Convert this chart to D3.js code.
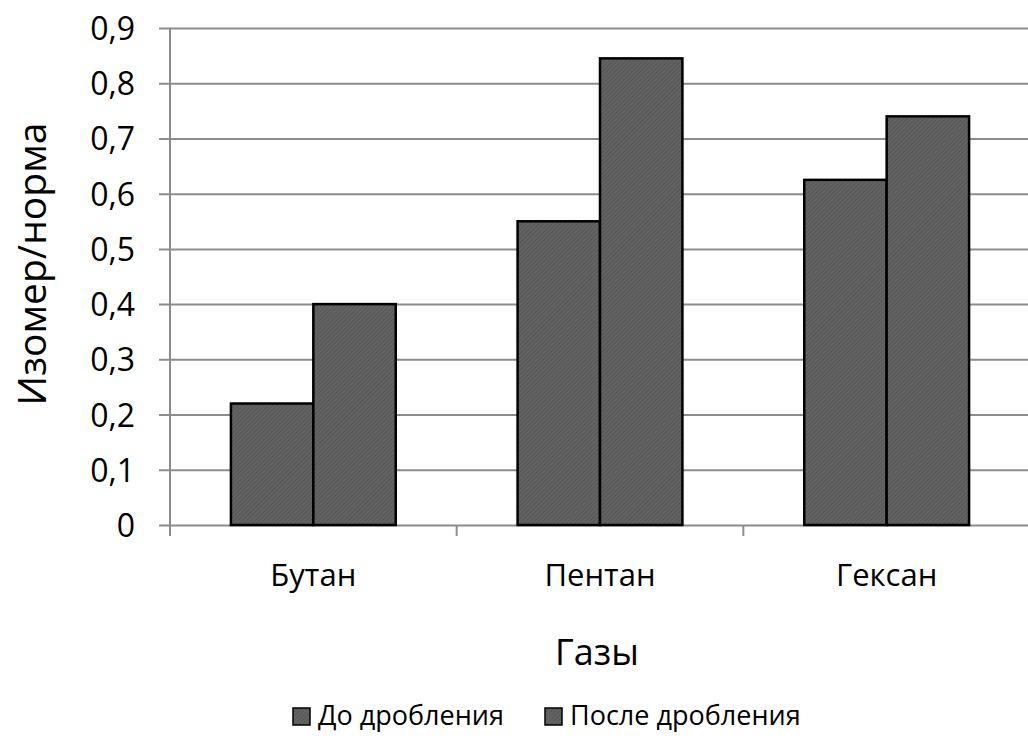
<!DOCTYPE html>
<html>
<head>
<meta charset="utf-8">
<script src="https://cdn.jsdelivr.net/npm/d3@7"></script>
<style>
  body { margin: 0; background: #fff; }
  text { font-family: "Open Sans", sans-serif; fill: #000; }
</style>
</head>
<body>
<svg id="grafico"></svg>
<script>
const categorias = ['Бутан', 'Пентан', 'Гексан'];
const series = ['До дробления', 'После дробления'];
const antes = [0.22, 0.55, 0.625];
const depois = [0.40, 0.845, 0.74];
const ticksY = [0, 0.1, 0.2, 0.3, 0.4, 0.5, 0.6, 0.7, 0.8, 0.9];

const largura = 1028, altura = 739;
const margem = { esquerda: 170, direita: -2, superior: 28, inferior: 214 };
const larguraPlotagem = largura - margem.esquerda - margem.direita;
const alturaPlotagem = altura - margem.superior - margem.inferior;

const svg = d3.select('#grafico').attr('width', largura).attr('height', altura);

const defs = svg.append('defs');
const pat = defs.append('pattern').attr('id', 'textura')
  .attr('width', 3).attr('height', 3).attr('patternUnits', 'userSpaceOnUse')
  .attr('patternTransform', 'rotate(45)');
pat.append('rect').attr('width', 3).attr('height', 3).attr('fill', '#636363');
pat.append('rect').attr('width', 1).attr('height', 3).attr('fill', '#575757');

const plotagem = svg.append('g').attr('transform', `translate(${margem.esquerda}, ${margem.superior})`);

const x = d3.scaleBand().domain(categorias).range([0, larguraPlotagem]);
const xs = d3.scaleBand().domain(series)
  .range([x.bandwidth() * 0.2125, x.bandwidth() * 0.7875]);
const y = d3.scaleLinear().domain([0, 0.9]).range([alturaPlotagem, 0]);

// grade
plotagem.append('g').attr('id', 'grade')
  .call(d3.axisLeft(y).tickValues(ticksY).tickSize(-larguraPlotagem - 11).tickFormat(''))
  .attr('transform', 'translate(-11, 0)')
  .call(g => g.select('.domain').remove())
  .call(g => g.selectAll('line').attr('stroke', '#8c8c8c').attr('stroke-width', 2));

// eixo Y
plotagem.append('g').attr('id', 'eixoY')
  .call(d3.axisLeft(y).tickValues(ticksY).tickSize(0).tickPadding(35)
    .tickFormat(d => d3.format('.1~f')(d).replace('.', ',')))
  .call(g => g.select('.domain').attr('stroke', '#8c8c8c').attr('stroke-width', 2)
    .attr('d', `M0,0V${alturaPlotagem + 11}`))
  .call(g => g.selectAll('text').style('font-size', '32px').attr('dy', '0.36em'));

// eixo X
const ticksX = categorias.map(c => x(c));
plotagem.append('g').attr('id', 'eixoX')
  .selectAll('line').data(ticksX).enter().append('line')
  .attr('x1', d => d).attr('x2', d => d)
  .attr('y1', alturaPlotagem).attr('y2', alturaPlotagem + 11)
  .attr('stroke', '#8c8c8c').attr('stroke-width', 2);

plotagem.selectAll('.rotuloX')
  .data(categorias).enter().append('text')
  .attr('x', d => x(d) + x.bandwidth() / 2)
  .attr('y', alturaPlotagem + 61)
  .style('text-anchor', 'middle')
  .style('font-size', '31px')
  .text(d => d);

// barras
const dados = [];
categorias.forEach((c, i) => {
  dados.push({ cat: c, serie: series[0], valor: antes[i] });
  dados.push({ cat: c, serie: series[1], valor: depois[i] });
});

plotagem.selectAll('.barra')
  .data(dados).enter().append('rect')
  .classed('barra', true)
  .attr('x', d => x(d.cat) + xs(d.serie))
  .attr('y', d => y(d.valor))
  .attr('width', xs.bandwidth())
  .attr('height', d => alturaPlotagem - y(d.valor))
  .attr('fill', 'url(#textura)')
  .attr('stroke', '#000')
  .attr('stroke-width', 2.5);

// titulos
plotagem.append('text')
  .style('text-anchor', 'middle')
  .style('font-size', '39px')
  .attr('transform', `translate(${-124}, ${236}) rotate(-90)`)
  .text('Изомер/норма');

plotagem.append('text')
  .attr('x', 427)
  .attr('y', 637)
  .style('text-anchor', 'middle')
  .style('font-size', '36px')
  .text('Газы');

// legenda
const legX = [293, 545];
const leg = svg.selectAll('.legenda').data(series).enter().append('g')
  .attr('transform', (d, i) => `translate(${legX[i]}, 708)`);
leg.append('rect').attr('width', 17).attr('height', 17)
  .attr('fill', 'url(#textura)').attr('stroke', '#000').attr('stroke-width', 1.5);
leg.append('text').attr('x', 25).attr('y', 17).style('font-size', '27px').text(d => d);
</script>
</body>
</html>
